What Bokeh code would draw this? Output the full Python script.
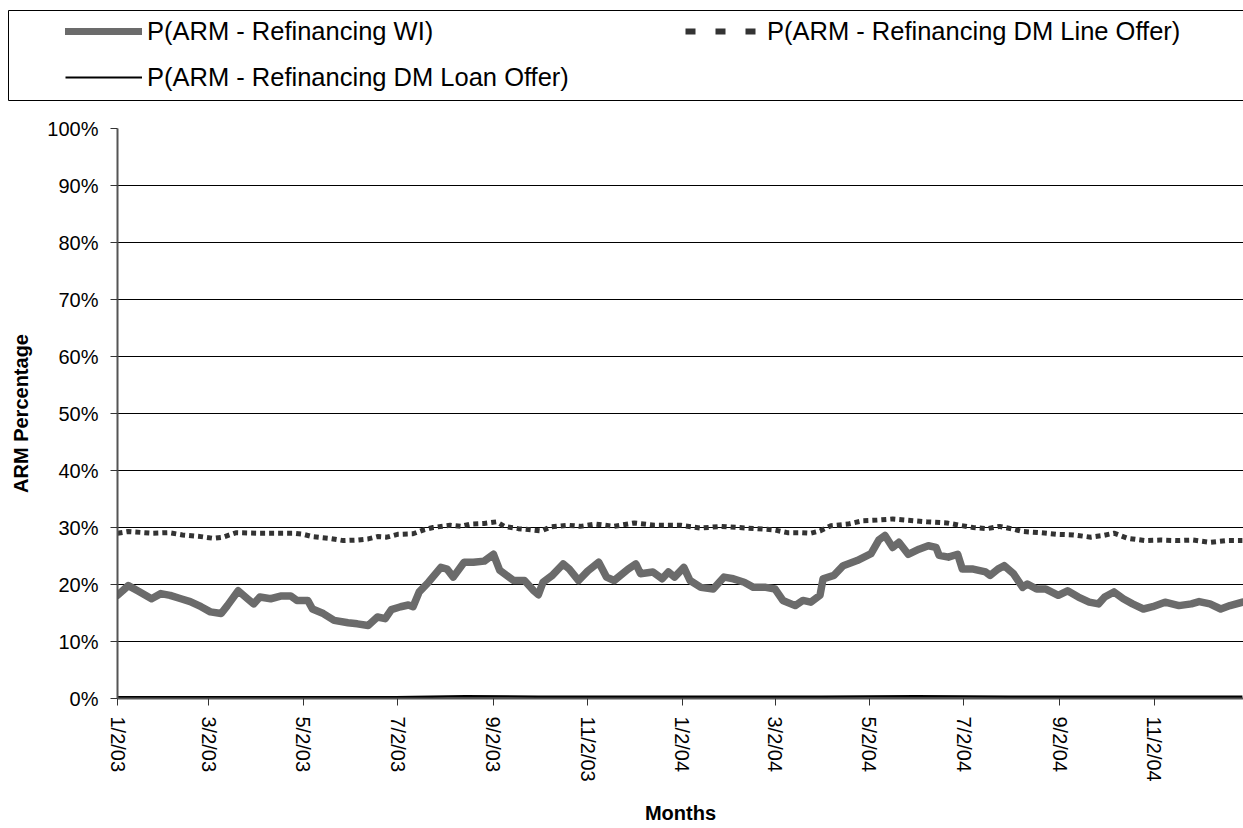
import pandas as pd
from bokeh.plotting import figure
from bokeh.models import (Range1d, FixedTicker, PrintfTickFormatter, Legend, LegendItem,
                          BoxAnnotation)
from bokeh.embed import file_html
from bokeh.resources import INLINE

START = "2003-01-02"
X_END = "2004-12-29 17:00"

wi_dates = ["2003-01-02", "2003-01-09", "2003-01-15", "2003-01-24", "2003-01-30", "2003-02-05",
            "2003-02-12", "2003-02-18", "2003-02-25", "2003-03-03", "2003-03-10", "2003-03-14",
            "2003-03-21", "2003-03-27", "2003-03-31", "2003-04-04", "2003-04-11", "2003-04-18",
            "2003-04-24", "2003-04-28", "2003-05-05", "2003-05-08", "2003-05-15", "2003-05-22",
            "2003-05-31", "2003-06-06", "2003-06-13", "2003-06-19", "2003-06-24", "2003-06-28",
            "2003-07-04", "2003-07-09", "2003-07-12", "2003-07-16", "2003-07-22", "2003-07-30",
            "2003-08-03", "2003-08-07", "2003-08-14", "2003-08-20", "2003-08-27", "2003-09-02",
            "2003-09-06", "2003-09-15", "2003-09-22", "2003-09-28", "2003-10-01", "2003-10-04",
            "2003-10-10", "2003-10-17", "2003-10-21", "2003-10-27", "2003-11-02", "2003-11-09",
            "2003-11-14", "2003-11-19", "2003-11-28", "2003-12-03", "2003-12-06", "2003-12-14",
            "2003-12-20", "2003-12-24", "2003-12-28", "2004-01-03", "2004-01-07", "2004-01-14",
            "2004-01-22", "2004-01-29", "2004-02-04", "2004-02-11", "2004-02-17", "2004-02-25",
            "2004-03-02", "2004-03-07", "2004-03-15", "2004-03-20", "2004-03-25", "2004-03-31",
            "2004-04-02", "2004-04-09", "2004-04-15", "2004-04-24", "2004-05-03", "2004-05-08",
            "2004-05-12", "2004-05-17", "2004-05-21", "2004-05-27", "2004-06-03", "2004-06-09",
            "2004-06-14", "2004-06-16", "2004-06-22", "2004-06-28", "2004-07-01", "2004-07-08",
            "2004-07-16", "2004-07-19", "2004-07-24", "2004-07-28", "2004-08-03", "2004-08-09",
            "2004-08-12", "2004-08-18", "2004-08-24", "2004-09-01", "2004-09-07", "2004-09-14",
            "2004-09-21", "2004-09-27", "2004-10-01", "2004-10-07", "2004-10-13", "2004-10-19",
            "2004-10-26", "2004-11-01", "2004-11-09", "2004-11-18", "2004-11-26", "2004-12-01",
            "2004-12-08", "2004-12-15", "2004-12-21", "2004-12-29"]
wi_values = [18.1, 19.8, 18.9, 17.5, 18.4, 18.1,
             17.5, 17.0, 16.1, 15.2, 14.9, 16.3,
             18.9, 17.5, 16.6, 17.8, 17.5, 18.0,
             18.0, 17.2, 17.2, 15.7, 14.9, 13.7,
             13.3, 13.1, 12.8, 14.3, 14.0, 15.6,
             16.1, 16.4, 16.1, 18.7, 20.4, 23.0,
             22.7, 21.3, 23.9, 23.9, 24.1, 25.3,
             22.5, 20.7, 20.7, 18.9, 18.2, 20.4,
             21.6, 23.6, 22.7, 20.7, 22.4, 23.9,
             21.3, 20.7, 22.7, 23.6, 21.9, 22.2,
             21.0, 22.2, 21.3, 23.0, 20.7, 19.5,
             19.2, 21.3, 21.0, 20.4, 19.5, 19.5,
             19.2, 17.2, 16.3, 17.2, 16.9, 18.1,
             21.0, 21.6, 23.3, 24.2, 25.4, 27.8,
             28.6, 26.5, 27.4, 25.3, 26.2, 26.8,
             26.5, 25.1, 24.8, 25.3, 22.7, 22.7,
             22.2, 21.6, 22.7, 23.3, 21.9, 19.5,
             20.1, 19.2, 19.2, 18.1, 18.9, 17.8,
             16.9, 16.6, 17.8, 18.7, 17.5, 16.6,
             15.7, 16.1, 16.9, 16.3, 16.6, 17.0,
             16.6, 15.7, 16.3, 16.9]

line_dates = ["2003-01-02", "2003-01-09", "2003-01-24", "2003-02-04", "2003-02-13", "2003-02-25",
              "2003-03-05", "2003-03-11", "2003-03-20", "2003-04-03", "2003-04-16", "2003-04-26",
              "2003-05-02", "2003-05-08", "2003-05-19", "2003-05-28", "2003-06-06", "2003-06-13",
              "2003-06-19", "2003-06-25", "2003-07-02", "2003-07-12", "2003-07-19", "2003-07-25",
              "2003-08-05", "2003-08-12", "2003-08-18", "2003-08-27", "2003-09-04", "2003-09-09",
              "2003-09-18", "2003-09-26", "2003-10-03", "2003-10-09", "2003-10-20", "2003-10-28",
              "2003-11-07", "2003-11-19", "2003-12-02", "2003-12-15", "2004-01-01", "2004-01-14",
              "2004-01-27", "2004-02-07", "2004-02-19", "2004-03-01", "2004-03-10", "2004-03-19",
              "2004-03-25", "2004-03-31", "2004-04-07", "2004-04-18", "2004-04-28", "2004-05-07",
              "2004-05-17", "2004-06-08", "2004-06-21", "2004-06-29", "2004-07-08", "2004-07-17",
              "2004-07-25", "2004-08-03", "2004-08-09", "2004-08-20", "2004-08-31", "2004-09-11",
              "2004-09-22", "2004-09-30", "2004-10-07", "2004-10-16", "2004-10-27", "2004-11-06",
              "2004-11-17", "2004-11-27", "2004-12-08", "2004-12-19", "2004-12-29"]
line_values = [29.0, 29.3, 29.0, 29.1, 28.7, 28.4,
               28.1, 28.3, 29.1, 29.0, 29.0, 29.0,
               28.8, 28.4, 28.1, 27.7, 27.8, 28.0,
               28.4, 28.3, 28.8, 28.9, 29.6, 30.0,
               30.4, 30.2, 30.6, 30.7, 31.0, 30.2,
               29.8, 29.6, 29.4, 30.1, 30.4, 30.2,
               30.6, 30.2, 30.8, 30.4, 30.4, 29.9,
               30.2, 30.0, 29.8, 29.6, 29.1, 29.1,
               29.0, 29.4, 30.3, 30.6, 31.2, 31.3,
               31.5, 31.0, 30.8, 30.4, 30.0, 29.8,
               30.2, 29.7, 29.3, 29.1, 28.8, 28.7,
               28.3, 28.6, 29.0, 28.1, 27.7, 27.8,
               27.7, 27.8, 27.4, 27.7, 27.7]

loan_dates = ["2003-01-02", "2003-03-01", "2003-05-01", "2003-07-01", "2003-08-15", "2003-10-01",
              "2003-12-01", "2004-02-01", "2004-04-01", "2004-06-01", "2004-08-01", "2004-10-01",
              "2004-12-29"]
loan_values = [0.2, 0.2, 0.2, 0.2, 0.4, 0.3, 0.3, 0.3, 0.3, 0.4, 0.3, 0.3, 0.3]

tick_dates = ["2003-01-02", "2003-03-02", "2003-05-02", "2003-07-02", "2003-09-02", "2003-11-02",
              "2004-01-02", "2004-03-02", "2004-05-02", "2004-07-02", "2004-09-02", "2004-11-02"]
tick_labels = ["1/2/03", "3/2/03", "5/2/03", "7/2/03", "9/2/03", "11/2/03",
               "1/2/04", "3/2/04", "5/2/04", "7/2/04", "9/2/04", "11/2/04"]
y_ticks = [0, 10, 20, 30, 40, 50, 60, 70, 80, 90, 100]

series_names = ["P(ARM - Refinancing WI)", "P(ARM - Refinancing DM Line Offer)",
                "P(ARM - Refinancing DM Loan Offer)"]


def days(ds):
    d = (pd.to_datetime(pd.Series(ds)) - pd.Timestamp(START)) / pd.Timedelta(days=1)
    return [float(v) for v in d]


FONT = "Liberation Sans"
WI_COLOR = "#6b6b6b"
LINE_COLOR = "#333333"
NAN = float("nan")
W = 1243
LEG_H = 102

# ---------------- legend strip (own canvas, frame = whole canvas) ----------------
leg = figure(width=W, height=LEG_H, output_backend="svg", toolbar_location=None,
             x_range=Range1d(0, 1), y_range=Range1d(0, 1),
             x_axis_location=None, y_axis_location=None,
             min_border_left=0, min_border_right=0, min_border_top=0, min_border_bottom=0)
leg.grid.visible = False
leg.outline_line_color = None
leg.background_fill_color = "white"

leg.add_layout(BoxAnnotation(left=8, right=W + 20, top=10, bottom=100,
                             left_units="canvas", right_units="canvas",
                             top_units="canvas", bottom_units="canvas",
                             fill_alpha=0, line_color="black", line_width=1, line_alpha=1))

g_wi = leg.line([NAN], [NAN], line_color=WI_COLOR, line_width=7, line_cap="round")
g_line = leg.line([NAN], [NAN], line_color=LINE_COLOR, line_width=6, line_dash="10 20")
g_loan = leg.line([NAN], [NAN], line_color="black", line_width=2)

legend = Legend(items=[LegendItem(label=series_names[0], renderers=[g_wi]),
                       LegendItem(label=series_names[1], renderers=[g_line]),
                       LegendItem(label=series_names[2], renderers=[g_loan])],
                location=(65, 8), orientation="horizontal", ncols=2,
                padding=0, margin=0, spacing=12,
                border_line_color=None, background_fill_alpha=0,
                glyph_width=77, glyph_height=34, label_height=34, label_width=526,
                label_standoff=5,
                label_text_font=FONT, label_text_font_size="25.5px", label_text_color="black")
leg.add_layout(legend)

# ---------------- main chart ----------------
p = figure(width=W, height=826 - LEG_H, output_backend="svg", toolbar_location=None,
           x_range=Range1d(0, days([X_END])[0]), y_range=Range1d(0, 100),
           min_border_left=117, min_border_right=0, min_border_top=128 - LEG_H,
           min_border_bottom=126)
p.outline_line_color = None
p.background_fill_color = "white"
p.xgrid.visible = False
p.ygrid.grid_line_color = "black"
p.ygrid.grid_line_width = 1

p.line(days(loan_dates), loan_values, line_color="black", line_width=2.5)
p.line(days(line_dates), line_values, line_color=LINE_COLOR, line_width=5, line_dash="5 4")
p.line(days(wi_dates), wi_values, line_color=WI_COLOR, line_width=7.5,
       line_join="round", line_cap="round")

tick_days = [int(round(v)) for v in days(tick_dates)]
p.xaxis.ticker = FixedTicker(ticks=tick_days)
p.xaxis.major_label_overrides = dict(zip(tick_days, tick_labels))
p.xaxis.major_label_orientation = "vertical"
p.xaxis.axis_label = "Months"
p.yaxis.ticker = FixedTicker(ticks=y_ticks)
p.yaxis.formatter = PrintfTickFormatter(format="%d%%")
p.yaxis.axis_label = "ARM Percentage"

for ax in (p.xaxis[0], p.yaxis[0]):
    ax.axis_line_color = "#555555"
    ax.axis_line_width = 2
    ax.major_tick_line_color = "#333333"
    ax.major_tick_in = 0
    ax.major_tick_out = 7
    ax.minor_tick_line_color = None
    ax.major_label_text_font = FONT
    ax.major_label_text_font_size = "20px"
    ax.major_label_text_color = "black"
    ax.axis_label_text_font = FONT
    ax.axis_label_text_font_size = "20px"
    ax.axis_label_text_font_style = "bold"
    ax.axis_label_text_color = "black"
p.xaxis.major_label_standoff = 11
p.xaxis.axis_label_standoff = 17
p.yaxis.major_label_standoff = 12
p.yaxis.axis_label_standoff = 12

open("out.html", "w").write(file_html([leg, p], INLINE))
